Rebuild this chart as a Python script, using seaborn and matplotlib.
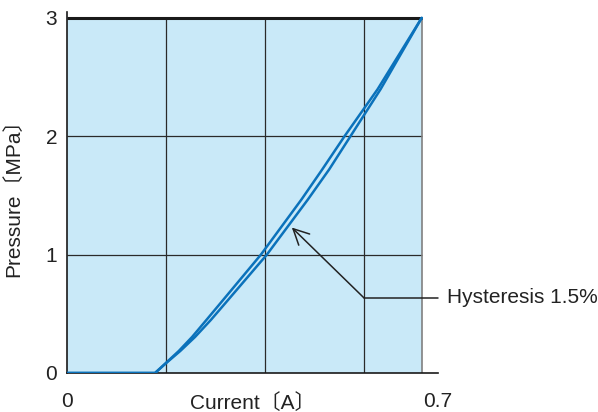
import numpy as np
import pandas as pd
import matplotlib.pyplot as plt
import seaborn as sns
from matplotlib.ticker import FixedLocator

# curve readings (current in A, pressure in MPa)
pressure = [0.0, 0.0, 0.093, 0.186, 0.305, 0.449, 0.619, 1.0, 1.466, 1.72, 2.0, 2.398, 3.0]
current_up = [0.0, 0.178, 0.202, 0.226, 0.253, 0.282, 0.316, 0.392, 0.474, 0.516, 0.561, 0.628, 0.717]
current_down = [0.0, 0.178, 0.203, 0.229, 0.259, 0.291, 0.326, 0.404, 0.487, 0.530, 0.573, 0.634, 0.717]

x_grid = [0.2, 0.4, 0.6]
y_grid = [1, 2]
y_ticks = [0, 1, 2, 3]
y_labels = ["0", "1", "2", "3"]
x_labels = ["0", "0.7"]
annot_text = "Hysteresis 1.5%"

X_END = 0.717   # right edge of shaded plot area
X_AXIS = 0.75   # end of drawn x axis line
Y_TOP = 3.0

sns.set_theme(style="white")
plt.rcParams["font.family"] = ["Liberation Sans", "Noto Sans CJK JP", "DejaVu Sans"]

df = pd.concat([
    pd.DataFrame({"current": current_up, "pressure": pressure, "branch": "up"}),
    pd.DataFrame({"current": current_down, "pressure": pressure, "branch": "down"}),
])

fig = plt.figure(figsize=(5.98, 4.12), dpi=100)
ax = fig.add_axes([67 / 598, 39 / 412, 371 / 598, 361 / 412])
ax.set_facecolor("white")

ax.set_xlim(0, X_AXIS)
ax.set_ylim(0, 3.05)

# shaded panel
ax.fill_between([0, X_END], 0, Y_TOP, color="#c9e9f8", lw=0, zorder=0)
ax.vlines(x_grid, 0, Y_TOP, color="#2a2a2a", lw=0.9, zorder=1)
ax.hlines(y_grid, 0, X_END, color="#2a2a2a", lw=0.9, zorder=1)
ax.vlines(X_END, 0, Y_TOP, color="#808080", lw=1.2, zorder=1)
ax.hlines(Y_TOP, 0, X_END, color="#1a1a1a", lw=2.2, zorder=3)

sns.lineplot(data=df, x="current", y="pressure", units="branch", estimator=None,
             sort=False, color="#0b72bb", lw=1.8, ax=ax, zorder=4,
             solid_joinstyle="round", solid_capstyle="round")

# spines
for s in ["top", "right"]:
    ax.spines[s].set_visible(False)
for s in ["left", "bottom"]:
    ax.spines[s].set_color("#1a1a1a")
    ax.spines[s].set_linewidth(1.2)

# ticks
ax.set_xticks([0, X_AXIS], x_labels)
ax.set_yticks(y_ticks, y_labels)
minor_x = [v for v in np.arange(0.05, X_END, 0.05) if round(v / 0.2, 3) % 1 != 0]
minor_y = [v for v in np.arange(0.1, 3.0, 0.1) if abs(v - round(v)) > 1e-6]
ax.xaxis.set_minor_locator(FixedLocator(minor_x))
ax.yaxis.set_minor_locator(FixedLocator(minor_y))
ax.tick_params(axis="both", which="major", length=0, labelsize=15, colors="#222222")
ax.tick_params(axis="x", which="major", pad=14)
ax.tick_params(axis="y", which="major", pad=7)
ax.tick_params(axis="both", which="minor", direction="in", length=5, width=1.0,
               color="#707070")

ax.set_xlabel("Current〔A〕", fontsize=15, color="#222222")
ax.xaxis.label.set_va("center")
ax.xaxis.set_label_coords(0.5, -0.083)
ax.set_ylabel("Pressure〔MPa〕", fontsize=15, color="#222222")
ax.yaxis.label.set_va("center")
ax.yaxis.set_label_coords(-0.146, 0.5)

# hysteresis callout
ax.annotate("", xy=(0.4545, 1.229), xytext=(0.6, 0.636),
            arrowprops=dict(arrowstyle="->", color="#222222", lw=1.1,
                            mutation_scale=28, shrinkA=0, shrinkB=0), zorder=5)
ax.plot([0.6, X_AXIS], [0.636, 0.636], color="#222222", lw=1.1, clip_on=False, zorder=5)
ax.text(0.768, 0.636, annot_text, fontsize=15, color="#222222", va="center", ha="left",
        clip_on=False)

fig.savefig("out.png", dpi=100)
